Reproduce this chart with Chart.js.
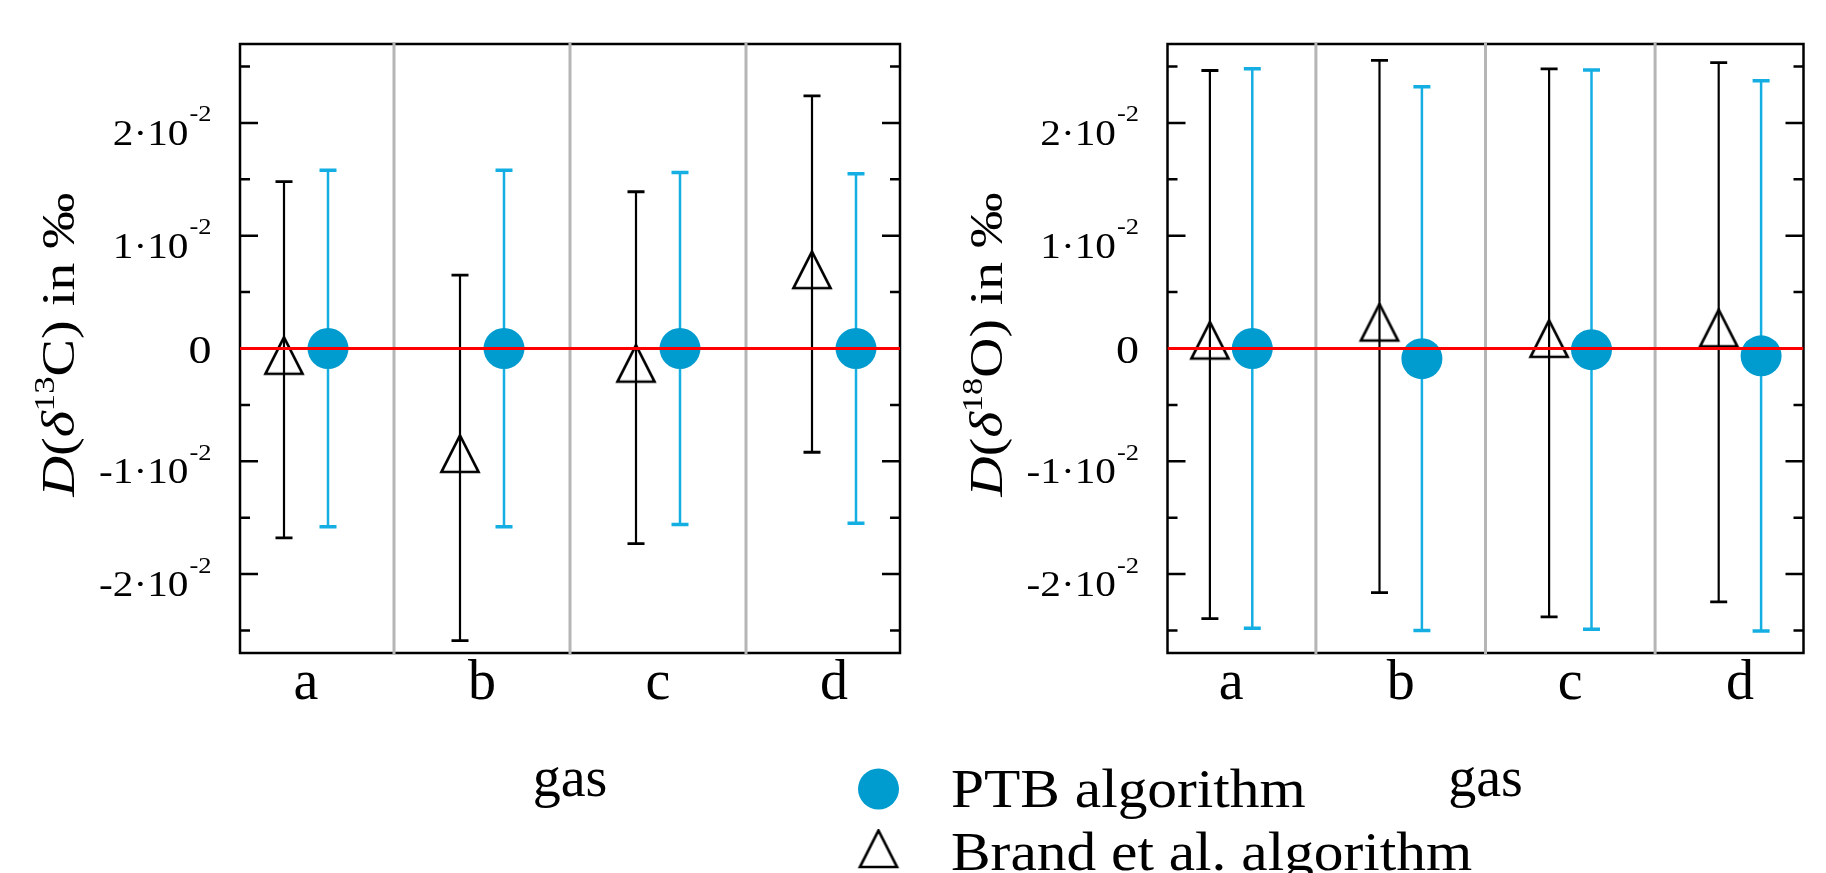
<!DOCTYPE html>
<html><head><meta charset="utf-8">
<script src="https://cdn.jsdelivr.net/npm/chart.js@4.4.0/dist/chart.umd.min.js"></script>
<style>
html,body{margin:0;padding:0;background:#fff;overflow:hidden;width:1826px;height:873px;position:relative;}
#c1{position:absolute;left:0;top:0;}
#c2{position:absolute;left:927px;top:0;}
</style></head><body>
<canvas id="c1" width="1826" height="873"></canvas>
<canvas id="c2" width="903" height="873"></canvas>
<script>
// ---------- data ----------
const CATEGORIES = ['a', 'b', 'c', 'd'];
const Y_TICKS = [-0.025, -0.02, -0.015, -0.01, -0.005, 0, 0.005, 0.01, 0.015, 0.02, 0.025];
const Y_LABELED = [-0.02, -0.01, 0, 0.01, 0.02];
const Y_RANGE = [-0.027, 0.027];
const X_RANGE = [0.625, 4.375];
const SEPARATORS = [1.5, 2.5, 3.5];

const C13_PTB = [0, 0, 0, 0];
const C13_PTB_ERR = [0.0158, 0.0158, 0.0156, 0.0155];
const C13_BRAND = [-0.0010, -0.0097, -0.0017, 0.0066];
const C13_BRAND_ERR = [0.0158, 0.0162, 0.0156, 0.0158];

const O18_PTB = [0, -0.0009, -0.0001, -0.00065];
const O18_PTB_ERR = [0.0248, 0.0241, 0.0248, 0.0244];
const O18_BRAND = [0.00035, 0.00195, 0.0005, 0.00144];
const O18_BRAND_ERR = [0.0243, 0.0236, 0.0243, 0.0239];

const SERIES_LABELS = ['PTB algorithm', 'Brand et al. algorithm'];
const X_TITLE = 'gas';

// ---------- styles ----------
const FONT = 'Liberation Serif';
const PTB_COLOR = '#009bcf';
const PTB_BAR = '#14aee2';
const BRAND_COLOR = '#000000';
const PTB_SHIFT = 0.125, BRAND_SHIFT = -0.125;

// open triangle marker (taller than equilateral, anchored like the original)
function makeTriangle() {
  const c = document.createElement('canvas');
  c.width = 44; c.height = 48;
  const g = c.getContext('2d');
  g.strokeStyle = BRAND_COLOR; g.lineWidth = 2.7; g.lineJoin = 'miter';
  g.beginPath();
  g.moveTo(22, 1.5); g.lineTo(40.5, 38); g.lineTo(3.5, 38); g.closePath();
  g.stroke();
  return c;
}
const TRIANGLE = makeTriangle();

function pts(vals, shift) { return vals.map((v, i) => ({ x: i + 1 + shift, y: v })); }

function stretchedText(ctx, text, x, y, font, sx, align) {
  ctx.save();
  ctx.font = font;
  const w = ctx.measureText(text).width * sx;
  let x0 = x;
  if (align === 'right') x0 = x - w; else if (align === 'center') x0 = x - w / 2;
  ctx.translate(x0, y);
  ctx.scale(sx, 1);
  ctx.textAlign = 'left';
  ctx.textBaseline = 'alphabetic';
  ctx.fillText(text, 0, 0);
  ctx.restore();
  return w;
}

const framePlugin = {
  id: 'frame',
  beforeDatasetsDraw(chart) {
    const { ctx, chartArea: a, scales: { x, y } } = chart;
    ctx.save();
    ctx.strokeStyle = '#000'; ctx.lineWidth = 2.5;
    ctx.strokeRect(a.left, a.top, a.width, a.height);
    y.ticks.forEach(t => {
      const py = y.getPixelForValue(t.value);
      const major = Y_LABELED.some(v => Math.abs(v - t.value) < 1e-9);
      const len = major ? 18 : 10;
      ctx.beginPath();
      ctx.moveTo(a.left, py); ctx.lineTo(a.left + len, py);
      ctx.moveTo(a.right, py); ctx.lineTo(a.right - len, py);
      ctx.stroke();
    });
    ctx.strokeStyle = '#b5b5b5'; ctx.lineWidth = 3;
    SEPARATORS.forEach(s => {
      const px = x.getPixelForValue(s);
      ctx.beginPath(); ctx.moveTo(px, a.top - 1.5); ctx.lineTo(px, a.bottom + 1.5); ctx.stroke();
    });
    chart.data.datasets.forEach((ds, di) => {
      if (!ds.errors) return;
      const meta = chart.getDatasetMeta(di);
      ctx.strokeStyle = ds.errorColor;
      meta.data.forEach((el, i) => {
        const v = ds.data[i].y, e = ds.errors[i];
        const px = el.x, top = y.getPixelForValue(v + e), bot = y.getPixelForValue(v - e);
        ctx.lineWidth = ds.errorWidth;
        ctx.beginPath(); ctx.moveTo(px, top); ctx.lineTo(px, bot); ctx.stroke();
        ctx.lineWidth = ds.capThickness;
        ctx.beginPath();
        ctx.moveTo(px - 8.5, top); ctx.lineTo(px + 8.5, top);
        ctx.moveTo(px - 8.5, bot); ctx.lineTo(px + 8.5, bot);
        ctx.stroke();
      });
    });
    ctx.restore();
  },
  afterDraw(chart, args, opts) {
    const { ctx, chartArea: a, scales: { y } } = chart;
    ctx.save();
    ctx.fillStyle = '#000';
    const R = a.left - 28.5;
    Y_LABELED.forEach(v => {
      const py = y.getPixelForValue(v);
      if (Math.abs(v) < 1e-12) {
        stretchedText(ctx, '0', R, py + 14.5, '40px "' + FONT + '"', 1.15, 'right');
      } else {
        const k = Math.round(v * 100);
        const main = (k < 0 ? '-' : '') + Math.abs(k) + '·10';
        const w2 = stretchedText(ctx, '-2', R, py - 1.5, '23px "' + FONT + '"', 1.15, 'right');
        stretchedText(ctx, main, R - w2 - 1, py + 22, '35px "' + FONT + '"', 1.18, 'right');
      }
    });
    // y axis title (rotated, mixed styles)
    const segs = opts.yTitle;
    let natural = 0;
    segs.forEach(s => { ctx.font = s.style + ' ' + s.size + 'px "' + FONT + '"'; natural += ctx.measureText(s.t).width; });
    const sx = opts.yTitleLength / natural;
    ctx.translate(a.left - 166, (a.top + a.bottom) / 2 - 4);
    ctx.rotate(-Math.PI / 2);
    ctx.scale(sx, 1);
    let cx = -natural / 2;
    ctx.textBaseline = 'alphabetic'; ctx.textAlign = 'left';
    segs.forEach(s => {
      ctx.font = s.style + ' ' + s.size + 'px "' + FONT + '"';
      ctx.fillText(s.t, cx, -s.rise);
      cx += ctx.measureText(s.t).width;
    });
    ctx.restore();

    if (opts.legend) {
      const L = opts.legend;
      ctx.save();
      [1, 2].forEach((di, row) => {
        const ds = chart.data.datasets[di];
        const mx = L.markerX, my = L.markerY[row];
        ctx.fillStyle = ds.backgroundColor;
        ctx.strokeStyle = ds.borderColor;
        ctx.lineWidth = ds.borderWidth;
        Chart.helpers.drawPoint(ctx, { pointStyle: ds.pointStyle, radius: ds.pointRadius, borderWidth: ds.borderWidth, rotation: 0 }, mx, my);
        ctx.fillStyle = '#000';
        stretchedText(ctx, ds.label, L.textX, L.baseline[row], L.size + 'px "' + FONT + '"', L.sx, 'left');
      });
      ctx.restore();
    }
  }
};

function makeChart(canvas, ptb, ptbErr, brand, brandErr, cfg) {
  return new Chart(canvas, {
    type: 'scatter',
    data: {
      datasets: [
        {
          type: 'line', label: 'zero', data: [{ x: X_RANGE[0], y: 0 }, { x: X_RANGE[1], y: 0 }],
          borderColor: '#ff0000', borderWidth: 3, pointRadius: 0, order: 0, fill: false
        },
        {
          label: SERIES_LABELS[0], data: pts(ptb, PTB_SHIFT), errors: ptbErr,
          errorColor: PTB_BAR, errorWidth: 2.5, capThickness: 3.5,
          pointStyle: 'circle', pointRadius: 20.5, backgroundColor: PTB_COLOR,
          borderColor: PTB_COLOR, borderWidth: 0, order: 1
        },
        {
          label: SERIES_LABELS[1], data: pts(brand, BRAND_SHIFT), errors: brandErr,
          errorColor: BRAND_COLOR, errorWidth: 2.2, capThickness: 2.8,
          pointStyle: TRIANGLE, pointRadius: 24, backgroundColor: 'rgba(0,0,0,0)',
          borderColor: BRAND_COLOR, borderWidth: 2.5, order: 1
        }
      ]
    },
    options: {
      responsive: false, animation: false, devicePixelRatio: 1,
      layout: { padding: cfg.padding },
      plugins: {
        legend: { display: false }, tooltip: { enabled: false },
        frame: { yTitle: cfg.yTitle, yTitleLength: 304, legend: cfg.legend }
      },
      scales: {
        x: {
          type: 'linear', min: X_RANGE[0], max: X_RANGE[1],
          afterBuildTicks: s => { s.ticks = CATEGORIES.map((c, i) => ({ value: i + 1 })); },
          afterFit: s => { s.height = 220; },
          grid: { display: false, drawTicks: false }, border: { display: false },
          ticks: {
            callback: v => CATEGORIES[Math.round(v) - 1],
            font: { family: FONT, size: 56, lineHeight: 1 }, color: '#000',
            padding: 3, autoSkip: false, maxRotation: 0, minRotation: 0
          },
          title: {
            display: true, text: X_TITLE, color: '#000',
            font: { family: FONT, size: 56, lineHeight: 1 }, padding: { top: 0, bottom: 64 }
          }
        },
        y: {
          type: 'linear', min: Y_RANGE[0], max: Y_RANGE[1],
          afterBuildTicks: s => { s.ticks = Y_TICKS.map(v => ({ value: v })); },
          afterFit: s => { s.width = cfg.yWidth; },
          grid: { display: false, drawTicks: false }, border: { display: false },
          ticks: { display: false }
        }
      }
    },
    plugins: [framePlugin]
  });
}

function titleSegs(iso, el) {
  return [
    { t: 'D', style: 'italic', size: 47, rise: 0 },
    { t: '(', style: 'normal', size: 47, rise: 0 },
    { t: 'δ', style: 'italic', size: 47, rise: 0 },
    { t: iso, style: 'normal', size: 29, rise: 20 },
    { t: el + ')', style: 'normal', size: 47, rise: 0 },
    { t: ' in ', style: 'normal', size: 47, rise: 0 },
    { t: '‰', style: 'normal', size: 47, rise: 0 }
  ];
}

makeChart(document.getElementById('c1'), C13_PTB, C13_PTB_ERR, C13_BRAND, C13_BRAND_ERR, {
  padding: { left: 0, top: 44, right: 926, bottom: 0 }, yWidth: 240,
  yTitle: titleSegs('13', 'C'),
  legend: { markerX: 878.5, markerY: [789, 853], textX: 951, baseline: [807, 870], size: 55, sx: 1.08 }
});
makeChart(document.getElementById('c2'), O18_PTB, O18_PTB_ERR, O18_BRAND, O18_BRAND_ERR, {
  padding: { left: 0, top: 44, right: 2.5, bottom: 0 }, yWidth: 240.5,
  yTitle: titleSegs('18', 'O'),
  legend: null
});
</script>
</body></html>
